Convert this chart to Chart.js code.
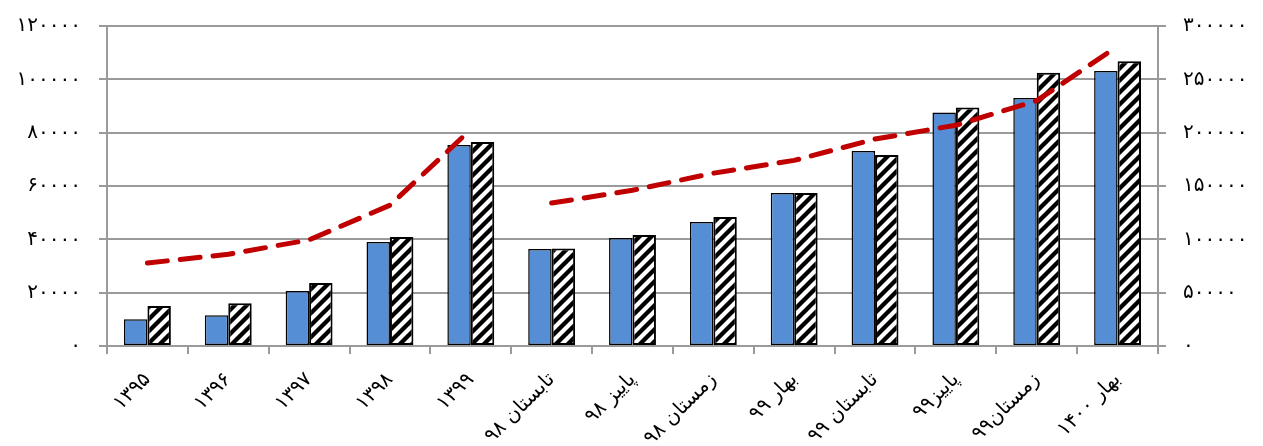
<!DOCTYPE html>
<html>
<head>
<meta charset="utf-8">
<script src="https://cdn.jsdelivr.net/npm/chart.js@4/dist/chart.umd.min.js"></script>
<style>
    html, body { margin: 0; padding: 0; background: #fff; }
    #wrap { width: 1263px; height: 446px; position: relative; }
</style>
</head>
<body>
<div id="wrap"><canvas id="chart"></canvas></div>
<script>
// categories and values
const categories = ['۱۳۹۵', '۱۳۹۶', '۱۳۹۷', '۱۳۹۸', '۱۳۹۹', 'تابستان ۹۸', 'پاییز ۹۸', 'زمستان ۹۸',
    'بهار ۹۹', 'تابستان ۹۹', 'پاییز۹۹', 'زمستان۹۹', 'بهار ۱۴۰۰']
const blueValues = [10000, 11500, 20600, 39000, 75400, 36400, 40500, 46500, 57400, 73100, 87600, 93000, 103100]
const hatchValues = [15000, 16000, 23600, 40900, 76500, 36600, 41600, 48400, 57400, 71600, 89400, 102500, 106800]
const lineValues = [77800, 86000, 99500, 132000, 203000, 134000, 146000, 162000, 174000, 194000, 207000, 230000, 281000]
const leftTicks = [0, 20000, 40000, 60000, 80000, 100000, 120000]
const rightTicks = [0, 50000, 100000, 150000, 200000, 250000, 300000]

const faDigits = '۰۱۲۳۴۵۶۷۸۹'
const toFa = (n) => String(n).replace(/\d/g, d => faDigits[d])

// black / white diagonal hatch
const makeHatch = function () {
    const size = 12
    const c = document.createElement('canvas')
    c.width = size
    c.height = size
    const g = c.getContext('2d')
    g.fillStyle = '#fff'
    g.fillRect(0, 0, size, size)
    g.strokeStyle = '#000'
    g.lineWidth = 4.3
    g.beginPath()
    g.moveTo(-2, size + 2); g.lineTo(size + 2, -2)
    g.moveTo(-2, 2); g.lineTo(2, -2)
    g.moveTo(size - 2, size + 2); g.lineTo(size + 2, size - 2)
    g.stroke()
    return g.createPattern(c, 'repeat')
}

const font = {family: 'DejaVu Sans', size: 20}
const gridColor = '#9a9a9a'

// fixed box sizes so the plot area sits where the original one does
const fitY = (w) => (s) => {
    s.width = w
    s.paddingTop = 0
    s.paddingBottom = 0
}

const ctx = document.getElementById('chart').getContext('2d')
new Chart(ctx, {
    type: 'bar',
    data: {
        labels: categories,
        datasets: [
            {
                type: 'line',
                data: lineValues,
                yAxisID: 'y2',
                borderColor: '#C00000',
                borderWidth: 5,
                borderDash: [20, 13],
                borderCapStyle: 'round',
                pointRadius: 0,
                tension: 0,
                order: 0,
                segment: {
                    // no line between ۱۳۹۹ and تابستان ۹۸
                    borderColor: c => c.p0DataIndex === 4 ? 'rgba(0,0,0,0)' : undefined
                }
            },
            {
                data: blueValues,
                yAxisID: 'y',
                backgroundColor: '#558ED5',
                borderColor: '#000',
                borderWidth: 1.5,
                borderSkipped: false,
                categoryPercentage: 0.58,
                barPercentage: 1,
                order: 1
            },
            {
                data: hatchValues,
                yAxisID: 'y',
                backgroundColor: makeHatch(),
                borderColor: '#000',
                borderWidth: 2,
                borderSkipped: false,
                categoryPercentage: 0.58,
                barPercentage: 1,
                order: 1
            }
        ]
    },
    options: {
        responsive: true,
        maintainAspectRatio: false,
        animation: false,
        layout: {padding: {top: 26, left: 0, right: 0, bottom: 0}},
        plugins: {legend: {display: false}, tooltip: {enabled: false}},
        scales: {
            x: {
                grid: {display: true, drawOnChartArea: false, color: gridColor, lineWidth: 2, tickLength: 8, offset: true},
                border: {display: true, color: gridColor, width: 2},
                ticks: {color: '#000', font: font, minRotation: 45, maxRotation: 45, padding: 14},
                afterFit: (s) => {
                    s.height = 100
                    s.paddingLeft = 0
                    s.paddingRight = 0
                }
            },
            y: {
                position: 'left',
                min: 0, max: 120000,
                afterBuildTicks: (s) => { s.ticks = leftTicks.map(v => ({value: v})) },
                grid: {color: gridColor, lineWidth: 2, tickLength: 8},
                border: {display: true, color: gridColor, width: 2},
                ticks: {color: '#000', font: font, padding: 18, callback: v => toFa(v)},
                afterFit: fitY(107)
            },
            y2: {
                position: 'right',
                min: 0, max: 300000,
                afterBuildTicks: (s) => { s.ticks = rightTicks.map(v => ({value: v})) },
                grid: {drawOnChartArea: false, color: gridColor, lineWidth: 2, tickLength: 8},
                border: {display: true, color: gridColor, width: 2},
                ticks: {color: '#000', font: font, padding: 17, callback: v => toFa(v)},
                afterFit: fitY(105)
            }
        }
    }
})
</script>
</body>
</html>
